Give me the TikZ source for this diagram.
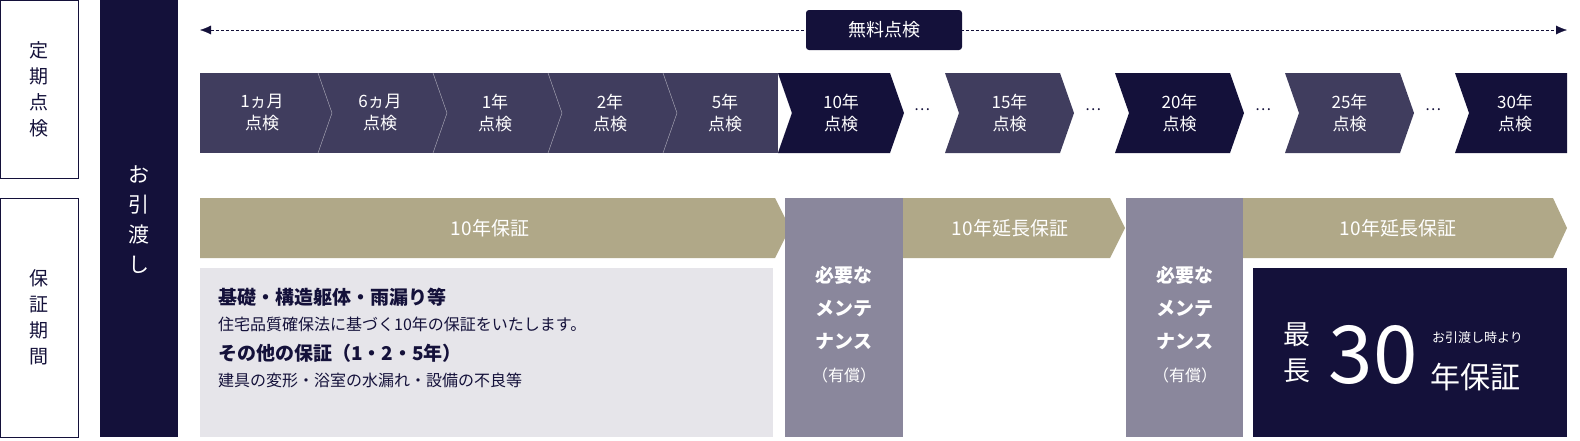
\documentclass[tikz,border=0pt]{standalone}
\usepackage{fontspec}
\setmainfont{Noto Sans CJK JP}
\usetikzlibrary{arrows.meta}
\definecolor{navy}{HTML}{14113A}
\definecolor{slate}{HTML}{403D5E}
\definecolor{gold}{HTML}{B0A888}
\definecolor{mgray}{HTML}{8A879C}
\definecolor{lgray}{HTML}{E6E5EA}
\tikzset{
  wt/.style={text=white, align=center, font=\fontsize{17}{22}\selectfont},
  nt/.style={text=navy, align=center, font=\fontsize{19}{26}\selectfont},
}
\newcommand{\chev}[5]{% x0, x1, colour, name, text
  \fill[#3] (#1,73) -- (#2,73) -- (#2+14,113) -- (#2,153) -- (#1,153) -- (#1+14,113) -- cycle;
  \node[wt] (#4) at ({(#1+#2)/2+7},113) {#5};}
\begin{document}
\begin{tikzpicture}[x=1pt,y=-1pt]
  \useasboundingbox (0,0) rectangle (1580,440);
  % left labels
  \draw[navy] (0.5,0.5) rectangle (78,178);
  \node[nt] (teiki) at (39,89) {定\\期\\点\\検};
  \draw[navy] (0.5,198) rectangle (78,437);
  \node[nt] (hosho) at (39,317) {保\\証\\期\\間};
  \fill[navy] (100,0) rectangle (178,437);
  \node[wt, font=\fontsize{21}{30}\selectfont] (hikiwatashi) at (139,220) {お\\引\\渡\\し};
  % free inspection arrow
  \coordinate (al) at (200,30);
  \coordinate (ar) at (1567,30);
  \draw[navy, densely dashed, {Latex[length=11pt,width=9pt]}-{Latex[length=11pt,width=9pt]}] (al) -- (ar);
  \node[fill=navy, rounded corners=3pt, text=white, minimum width=156pt, minimum height=40pt,
    font=\fontsize{18}{22}\selectfont] (muryo) at (884,30) {無料点検};
  % inspection chevrons
  \fill[slate] (200,73) rectangle (778,153);
  \foreach \x/\t/\n in {318/1ヵ月/c1,433/6ヵ月/c2,548/1年/c3,663/2年/c4,778/5年/c5}{
    \draw[white!60!slate, thin] (\x,73) -- (\x+14,113) -- (\x,153);
  }
  \foreach \x/\t/\n in {200/1ヵ月/c1,318/6ヵ月/c2,433/1年/c3,548/2年/c4,663/5年/c5}{
    \node[wt] (\n) at (\x+62,113) {\t\\点検};
  }
  \fill[navy] (778,73) -- (890,73) -- (904,113) -- (890,153) -- (778,153) -- (792,113) -- cycle;
  \node[wt] (c6) at (841,113) {10年\\点検};
  \chev{945}{1060}{slate}{c7}{15年\\点検}
  \chev{1115}{1230}{navy}{c8}{20年\\点検}
  \chev{1285}{1400}{slate}{c9}{25年\\点検}
  \fill[navy] (1455,73) -- (1567,73) -- (1567,153) -- (1455,153) -- (1469,113) -- cycle;
  \node[wt] (c10) at (1515,113) {30年\\点検};
  \foreach \x/\n in {922/d1,1093/d2,1263/d3,1433/d4}{
    \node[text=navy, font=\fontsize{15}{15}\selectfont] (\n) at (\x,110) {…};
  }
  % guarantee row
  \fill[gold] (200,198) -- (775,198) -- (790,228) -- (775,258) -- (200,258) -- cycle;
  \node[wt, font=\fontsize{19}{22}\selectfont] (g1) at (490,228) {10年保証};
  \fill[gold] (903,198) -- (1110,198) -- (1125,228) -- (1110,258) -- (903,258) -- cycle;
  \node[wt, font=\fontsize{19}{22}\selectfont] (g2) at (1010,228) {10年延長保証};
  \fill[gold] (1243,198) -- (1553,198) -- (1567,228) -- (1553,258) -- (1243,258) -- cycle;
  \node[wt, font=\fontsize{19}{22}\selectfont] (g3) at (1398,228) {10年延長保証};
  \fill[mgray] (785,198) rectangle (903,437);
  \node[wt, font=\fontsize{19}{33}\selectfont] (m1) at (844,325) {\textbf{必要な}\\\textbf{メンテ}\\\textbf{ナンス}\\{\fontsize{16}{20}\selectfont（有償）}};
  \fill[mgray] (1126,198) rectangle (1243,437);
  \node[wt, font=\fontsize{19}{33}\selectfont] (m2) at (1185,325) {\textbf{必要な}\\\textbf{メンテ}\\\textbf{ナンス}\\{\fontsize{16}{20}\selectfont（有償）}};
  % detail box
  \fill[lgray] (200,268) rectangle (773,437);
  \node[anchor=north west, text=navy, align=left, font=\fontsize{16}{20}\selectfont, inner sep=0pt]
    (detail) at (218,288) {{\fontsize{19}{24}\selectfont\textbf{基礎・構造躯体・雨漏り等}}\\[6pt]
    住宅品質確保法に基づく10年の保証をいたします。\\[10pt]
    {\fontsize{19}{24}\selectfont\textbf{その他の保証（1・2・5年）}}\\[6pt]
    建具の変形・浴室の水漏れ・設備の不良等};
  % max 30 years
  \fill[navy] (1253,268) rectangle (1567,437);
  \node[wt, font=\fontsize{27}{36}\selectfont] (saicho) at (1297,353) {最\\長};
  \node[text=white, font=\fontsize{80}{80}\selectfont] (san) at (1373,355) {30};
  \node[text=white, anchor=west, font=\fontsize{13}{13}\selectfont, inner sep=0pt] (toki) at (1432,338) {お引渡し時より};
  \node[text=white, anchor=west, font=\fontsize{30}{30}\selectfont, inner sep=0pt] (nen) at (1430,377) {年保証};
\end{tikzpicture}
\end{document}
